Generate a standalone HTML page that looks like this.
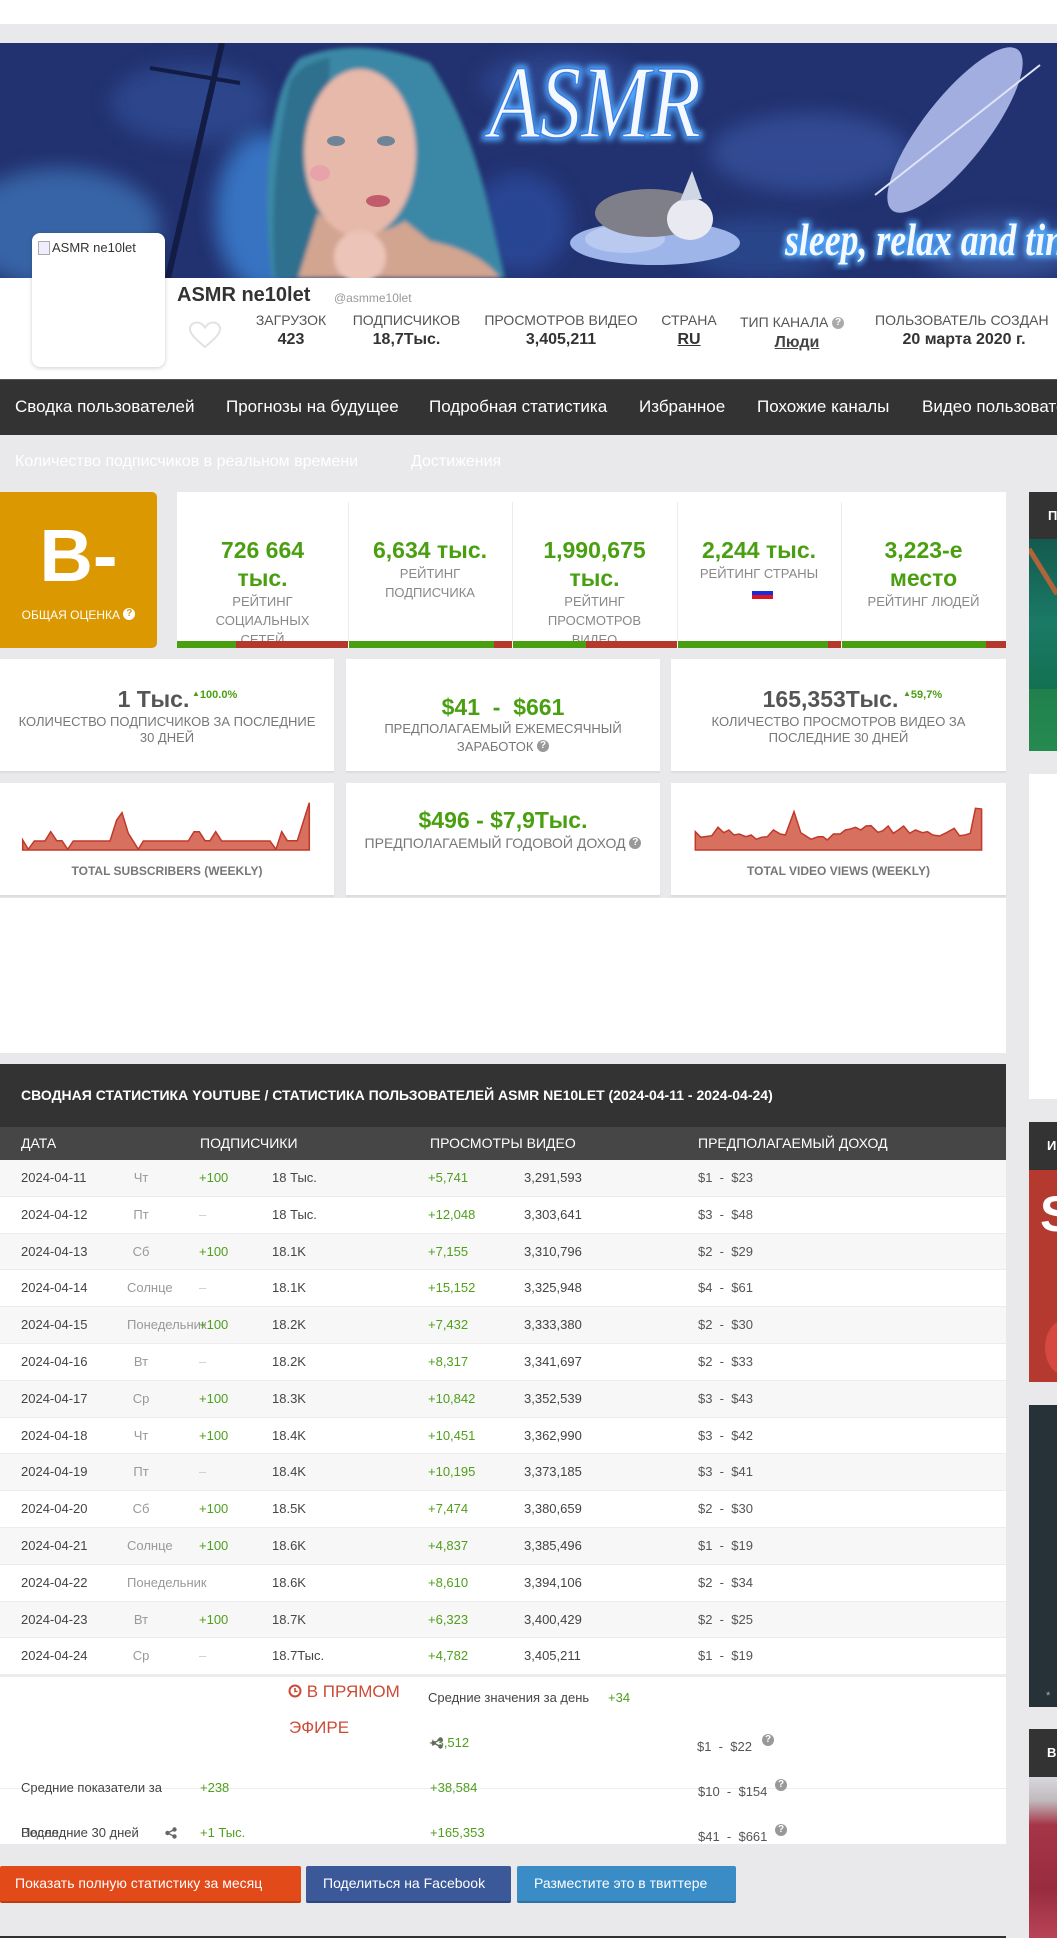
<!DOCTYPE html>
<html><head><meta charset="utf-8">
<style>
*{box-sizing:border-box}
body{margin:0;background:#e9e9eb;font-family:"Liberation Sans","Noto Sans CJK SC",sans-serif;}
#p{position:relative;width:1057px;height:1938px;overflow:hidden;background:#e9e9eb}
.a{position:absolute;white-space:nowrap}
.q{display:inline-block;width:12px;height:12px;border-radius:50%;background:#999;color:#fff;font-size:10px;font-weight:bold;line-height:12px;text-align:center;vertical-align:top}
.nav{top:379px;line-height:56px;color:#fff;font-size:17px}
.pl{top:310px;font-size:14px;color:#555;line-height:20px;text-align:center}
.pv{top:330px;font-size:16px;font-weight:bold;color:#333;line-height:20px;text-align:center}
.rc{top:492px;height:156px;overflow:hidden;text-align:center}
.rv{margin-top:44px;font-size:23px;line-height:28px;font-weight:bold;color:#4a9f11}
.rl{font-size:13px;line-height:19px;color:#888}
.card{background:#fff;box-shadow:0 2px 1px #dcdcdc}
.g{color:#4e9f1c}
.row{left:0;width:1006px;height:36.8px;line-height:36.8px;font-size:13px;color:#444;border-bottom:1px solid #ececec}
.row span{position:absolute;top:0}
.d1{left:21px}
.d2{left:127px;width:28px;text-align:center;color:#999;overflow:visible}
.d3{left:199px;color:#4e9f1c}
.d4{left:272px}
.d5{left:428px;color:#4e9f1c}
.d6{left:524px}
.d7{left:698px;color:#555}
.dash{color:#ccc}
.btn{top:1866px;height:37px;line-height:35px;color:#fff;font-size:14px;border-radius:2px}
.tri{font-size:8px;vertical-align:2px}
</style></head><body><div id="p">

<!-- top -->
<div class="a" style="left:0;top:0;width:1057px;height:24px;background:#fff"></div>

<!-- banner -->
<svg class="a" style="left:0;top:43px" width="1057" height="235" viewBox="0 0 1057 235">
<defs>
<filter id="bl"><feGaussianBlur stdDeviation="10"/></filter>
<filter id="gl"><feGaussianBlur stdDeviation="3"/></filter>
<filter id="sb"><feGaussianBlur stdDeviation="2"/></filter>
</defs>
<rect width="1057" height="235" fill="#22316f"/>
<g filter="url(#bl)" opacity="0.85">
<ellipse cx="60" cy="185" rx="100" ry="60" fill="#3b6db0"/>
<ellipse cx="190" cy="60" rx="80" ry="40" fill="#2d4a90"/>
<ellipse cx="265" cy="170" rx="50" ry="80" fill="#3a7fd0"/>
<ellipse cx="560" cy="40" rx="80" ry="30" fill="#2e4690"/>
<ellipse cx="810" cy="110" rx="100" ry="40" fill="#34509a"/>
<ellipse cx="760" cy="205" rx="80" ry="30" fill="#2c4a8e"/>
<ellipse cx="1000" cy="205" rx="80" ry="30" fill="#3a5aa2"/>
<ellipse cx="520" cy="180" rx="50" ry="50" fill="#2a4a9a"/>
</g>
<line x1="222" y1="0" x2="168" y2="235" stroke="#131c44" stroke-width="6"/>
<line x1="150" y1="25" x2="240" y2="40" stroke="#131c44" stroke-width="4"/>
<g filter="url(#sb)">
<path d="M300 15 Q360 -8 430 20 Q470 80 490 170 L505 235 L272 235 Q262 150 272 90 Q280 35 300 15Z" fill="#3a88a6"/>
<path d="M290 40 Q300 20 330 15 L320 235 L275 235 Q268 140 290 40Z" fill="#2f6f8e"/>
<path d="M318 170 Q360 205 405 178 L430 198 Q480 208 500 235 L298 235 Z" fill="#d2a590"/>
<ellipse cx="360" cy="110" rx="56" ry="84" fill="#e6b9aa"/>
<ellipse cx="360" cy="214" rx="26" ry="26" fill="#ecc5b8"/>
</g>
<ellipse cx="336" cy="98" rx="9" ry="5" fill="#6f8496"/>
<ellipse cx="386" cy="98" rx="9" ry="5" fill="#6f8496"/>
<ellipse cx="378" cy="158" rx="12" ry="6" fill="#c25c6c"/>
<ellipse cx="320" cy="130" rx="10" ry="8" fill="#e79aa8" opacity="0.7"/>
<g filter="url(#gl)"><text x="489" y="94" font-family="Liberation Serif" font-style="italic" font-size="104" textLength="212" lengthAdjust="spacingAndGlyphs" fill="none" stroke="#4fa8ff" stroke-width="7">ASMR</text></g>
<text x="489" y="94" font-family="Liberation Serif" font-style="italic" font-size="104" textLength="212" lengthAdjust="spacingAndGlyphs" fill="#f4f8ff" stroke="#3d7de0" stroke-width="1.5">ASMR</text>
<ellipse cx="655" cy="200" rx="85" ry="22" fill="#9db5e8"/>
<ellipse cx="625" cy="196" rx="40" ry="14" fill="#b9c9f0"/>
<ellipse cx="650" cy="170" rx="55" ry="24" fill="#7f7f8a"/>
<ellipse cx="690" cy="176" rx="23" ry="21" fill="#e9e9f2"/>
<path d="M680 158 L692 128 L702 156 Z" fill="#cfd6e4"/>
<ellipse cx="955" cy="87" rx="102" ry="32" transform="rotate(-52 955 87)" fill="#a3aee0"/>
<line x1="875" y1="152" x2="1040" y2="22" stroke="#dfe4f7" stroke-width="2"/>
<g filter="url(#gl)"><text x="785" y="212" font-family="Liberation Serif" font-style="italic" font-weight="bold" font-size="46" textLength="280" lengthAdjust="spacingAndGlyphs" fill="none" stroke="#4fa8ff" stroke-width="5">sleep, relax and tin</text></g>
<text x="785" y="212" font-family="Liberation Serif" font-style="italic" font-weight="bold" font-size="46" textLength="280" lengthAdjust="spacingAndGlyphs" fill="#f4f8ff">sleep, relax and tin</text>
</svg>

<!-- profile -->
<div class="a" style="left:0;top:278px;width:1057px;height:101px;background:#fff"></div>
<div class="a" style="left:32px;top:233px;width:133px;height:134px;background:#fff;border-radius:8px;box-shadow:0 1px 4px rgba(0,0,0,.2)"></div>
<div class="a" style="left:38px;top:241px;width:12px;height:14px;border:1px solid #aaa;background:#eef"></div>
<div class="a" style="left:52px;top:240px;font-size:13px;color:#333;line-height:16px">ASMR ne10let</div>
<div class="a" style="left:177px;top:283px;font-size:20px;font-weight:bold;color:#333;line-height:24px">ASMR ne10let</div>
<div class="a" style="left:334px;top:290px;font-size:12px;color:#999;line-height:16px">@asmme10let</div>
<svg class="a" style="left:188px;top:321px" width="34" height="28" viewBox="0 0 34 28"><path d="M17 26 C5 16 2 12 2 8 C2 4 5 1.5 9 1.5 C12 1.5 15 3.5 17 6.5 C19 3.5 22 1.5 25 1.5 C29 1.5 32 4 32 8 C32 12 29 16 17 26Z" fill="none" stroke="#e2e2e2" stroke-width="2"/></svg>
<div class="a pl" style="left:241px;width:100px">ЗАГРУЗОК</div>
<div class="a pv" style="left:241px;width:100px">423</div>
<div class="a pl" style="left:346px;width:121px">ПОДПИСЧИКОВ</div>
<div class="a pv" style="left:346px;width:121px">18,7Тыс.</div>
<div class="a pl" style="left:476px;width:170px">ПРОСМОТРОВ ВИДЕО</div>
<div class="a pv" style="left:476px;width:170px">3,405,211</div>
<div class="a pl" style="left:649px;width:80px">СТРАНА</div>
<div class="a pv" style="left:649px;width:80px;text-decoration:underline">RU</div>
<div class="a pl" style="left:740px;top:312px;text-align:left">ТИП КАНАЛА <span class="q" style="background:#aaa;vertical-align:2px">?</span></div>
<div class="a pv" style="left:757px;top:333px;width:80px;text-decoration:underline;color:#444">Люди</div>
<div class="a pl" style="left:875px;text-align:left">ПОЛЬЗОВАТЕЛЬ СОЗДАН</div>
<div class="a pv" style="left:884px;width:160px">20 марта 2020 г.</div>

<!-- nav -->
<div class="a" style="left:0;top:379px;width:1057px;height:56px;background:#333;border-top:1px solid #555"></div>
<div class="a nav" style="left:15px">Сводка пользователей</div>
<div class="a nav" style="left:226px">Прогнозы на будущее</div>
<div class="a nav" style="left:429px">Подробная статистика</div>
<div class="a nav" style="left:639px">Избранное</div>
<div class="a nav" style="left:757px">Похожие каналы</div>
<div class="a nav" style="left:922px">Видео пользователей</div>
<div class="a" style="left:15px;top:451px;font-size:16px;color:#fff;line-height:22px">Количество подписчиков в реальном времени</div>
<div class="a" style="left:411px;top:451px;font-size:16px;color:#fff;line-height:22px">Достижения</div>

<!-- grade -->
<div class="a" style="left:0;top:492px;width:157px;height:156px;background:#dc9800;border-radius:0 5px 5px 0"></div>
<div class="a" style="left:0;top:516px;width:157px;height:80px;line-height:80px;text-align:center;font-size:74px;font-weight:bold;color:#fff">B-</div>
<div class="a" style="left:0;top:606px;width:157px;line-height:18px;text-align:center;font-size:12px;color:#fff">ОБЩАЯ ОЦЕНКА <span class="q" style="background:#fff;color:#dc9800;vertical-align:3px">?</span></div>

<!-- rating card -->
<div class="a" style="left:177px;top:492px;width:829px;height:156px;background:#fff"></div>
<div class="a" style="left:348px;top:502px;width:1px;height:140px;background:#ececec"></div>
<div class="a" style="left:512px;top:502px;width:1px;height:140px;background:#ececec"></div>
<div class="a" style="left:677px;top:502px;width:1px;height:140px;background:#ececec"></div>
<div class="a" style="left:841px;top:502px;width:1px;height:140px;background:#ececec"></div>
<div class="a rc" style="left:177px;width:171px"><div class="rv">726 664<br>тыс.</div><div class="rl">РЕЙТИНГ<br>СОЦИАЛЬНЫХ<br>СЕТЕЙ</div></div>
<div class="a rc" style="left:348px;width:164px"><div class="rv">6,634 тыс.</div><div class="rl">РЕЙТИНГ<br>ПОДПИСЧИКА</div></div>
<div class="a rc" style="left:512px;width:165px"><div class="rv">1,990,675<br>тыс.</div><div class="rl">РЕЙТИНГ<br>ПРОСМОТРОВ<br>ВИДЕО</div></div>
<div class="a rc" style="left:677px;width:164px"><div class="rv">2,244 тыс.</div><div class="rl">РЕЙТИНГ СТРАНЫ</div></div>
<div class="a rc" style="left:841px;width:165px"><div class="rv">3,223-е<br>место</div><div class="rl">РЕЙТИНГ ЛЮДЕЙ</div></div>
<div class="a" style="left:752px;top:590px;width:21px;height:3px;background:#fff"></div>
<div class="a" style="left:752px;top:591px;width:21px;height:4px;background:#1c2bd8"></div>
<div class="a" style="left:752px;top:595px;width:21px;height:4px;background:#e0141e"></div>
<!-- bars -->
<div class="a" style="left:177px;top:641px;width:59px;height:7px;background:#4a9f11"></div>
<div class="a" style="left:236px;top:641px;width:112px;height:7px;background:#b5382c"></div>
<div class="a" style="left:349px;top:641px;width:145px;height:7px;background:#4a9f11"></div>
<div class="a" style="left:494px;top:641px;width:18px;height:7px;background:#b5382c"></div>
<div class="a" style="left:513px;top:641px;width:73px;height:7px;background:#4a9f11"></div>
<div class="a" style="left:586px;top:641px;width:91px;height:7px;background:#b5382c"></div>
<div class="a" style="left:678px;top:641px;width:150px;height:7px;background:#4a9f11"></div>
<div class="a" style="left:828px;top:641px;width:13px;height:7px;background:#b5382c"></div>
<div class="a" style="left:842px;top:641px;width:144px;height:7px;background:#4a9f11"></div>
<div class="a" style="left:986px;top:641px;width:20px;height:7px;background:#b5382c"></div>

<!-- row 2 cards -->
<div class="a card" style="left:0;top:659px;width:334px;height:112px"></div>
<div class="a card" style="left:346px;top:659px;width:314px;height:112px"></div>
<div class="a card" style="left:671px;top:659px;width:335px;height:112px"></div>
<div class="a" style="left:0;top:685px;width:307px;text-align:center;font-size:23px;font-weight:bold;color:#555;line-height:28px">1 Тыс.</div>
<div class="a" style="left:192px;top:687px;font-size:11px;font-weight:bold;color:#4a9f11;line-height:14px"><span class="tri">▲</span>100.0%</div>
<div class="a" style="left:0;top:714px;width:334px;text-align:center;font-size:13px;color:#777;line-height:15.5px">КОЛИЧЕСТВО ПОДПИСЧИКОВ ЗА ПОСЛЕДНИЕ<br>30 ДНЕЙ</div>
<div class="a" style="left:346px;top:693px;width:314px;text-align:center;font-size:23px;font-weight:bold;color:#4a9f11;line-height:28px">$41&nbsp; - &nbsp;$661</div>
<div class="a" style="left:346px;top:720px;width:314px;text-align:center;font-size:13px;color:#777;line-height:18px">ПРЕДПОЛАГАЕМЫЙ ЕЖЕМЕСЯЧНЫЙ<br>ЗАРАБОТОК <span class="q" style="vertical-align:3px">?</span></div>
<div class="a" style="left:671px;top:685px;width:319px;text-align:center;font-size:23px;font-weight:bold;color:#555;line-height:28px">165,353Тыс.</div>
<div class="a" style="left:903px;top:687px;font-size:11px;font-weight:bold;color:#4a9f11;line-height:14px"><span class="tri">▲</span>59,7%</div>
<div class="a" style="left:671px;top:714px;width:335px;text-align:center;font-size:13px;color:#777;line-height:15.5px">КОЛИЧЕСТВО ПРОСМОТРОВ ВИДЕО ЗА<br>ПОСЛЕДНИЕ 30 ДНЕЙ</div>

<!-- row 3 cards -->
<div class="a card" style="left:0;top:783px;width:334px;height:112px"></div>
<div class="a card" style="left:346px;top:783px;width:314px;height:112px"></div>
<div class="a card" style="left:671px;top:783px;width:335px;height:112px"></div>
<div class="a" style="left:0;top:863px;width:334px;text-align:center;font-size:12px;font-weight:bold;color:#777;line-height:16px">TOTAL SUBSCRIBERS (WEEKLY)</div>
<div class="a" style="left:346px;top:806px;width:314px;text-align:center;font-size:23px;font-weight:bold;color:#4a9f11;line-height:28px">$496 - $7,9Тыс.</div>
<div class="a" style="left:346px;top:834px;width:314px;text-align:center;font-size:14px;color:#777;line-height:18px">ПРЕДПОЛАГАЕМЫЙ ГОДОВОЙ ДОХОД <span class="q" style="vertical-align:3px">?</span></div>
<div class="a" style="left:671px;top:863px;width:335px;text-align:center;font-size:12px;font-weight:bold;color:#777;line-height:16px">TOTAL VIDEO VIEWS (WEEKLY)</div>

<svg class="a" style="left:0;top:0" width="1057" height="900" viewBox="0 0 1057 900">
<path d="M22.7 840 L28.3 849.3 L34.3 841 L45 841 L50.7 831.7 L56.7 840.7 L62 840.7 L67.7 849.3 L73.3 841 L110 841 L116.7 820 L122 812.7 L128.3 833.3 L138.3 849.3 L143.3 841 L188.3 841 L194 831.7 L199.3 831.7 L205 840.7 L210 840.7 L215.7 831.7 L221.7 841 L270 841 L276 849.3 L281.7 831.7 L287.3 840.7 L297.3 840.7 L309.3 802.7 L309.3 850 L22.7 850 Z" fill="#d8705f" stroke="#c0392b" stroke-width="1.5"/>
<path d="M695.3 831.7 L700.8 837.3 L711.8 835.7 L718 827.3 L723.8 832.7 L728.9 830 L734 835 L739.2 834 L746 836.7 L751.2 835 L756.3 839.3 L761.4 837.3 L767.3 836.7 L773.4 830 L780.3 834 L785.4 835 L794 811.7 L800.8 832.7 L811.1 839.3 L818 836.7 L823.1 836.7 L827.2 840 L833.4 834 L840.2 834 L845.3 830 L850.5 829 L855.6 827.3 L860.8 830 L865.9 826 L871 825.7 L877.9 832.3 L883 830.7 L888.2 826 L893.3 833.3 L898.4 830 L903.6 826 L909.7 833.3 L915.5 830 L922.4 832.7 L927.5 831.7 L932.7 835 L939.5 836 L946.4 832.7 L954.2 828.3 L959.4 835.7 L965.2 835 L970.3 833.3 L975.5 808.3 L981.6 809 L981.6 850 L695.3 850 Z" fill="#d8705f" stroke="#c0392b" stroke-width="1.5"/>
</svg>

<!-- blank white -->
<div class="a" style="left:0;top:898px;width:1006px;height:155px;background:#fff"></div>

<!-- table -->
<div class="a" style="left:0;top:1064px;width:1006px;height:63px;background:#333"></div>
<div class="a" style="left:21px;top:1085px;font-size:14px;font-weight:bold;color:#fff;line-height:20px">СВОДНАЯ СТАТИСТИКА YOUTUBE / СТАТИСТИКА ПОЛЬЗОВАТЕЛЕЙ ASMR NE10LET (2024-04-11 - 2024-04-24)</div>
<div class="a" style="left:0;top:1127px;width:1006px;height:33px;background:#464646"></div>
<div class="a" style="left:21px;top:1127px;line-height:33px;font-size:14px;color:#fff">ДАТА</div>
<div class="a" style="left:200px;top:1127px;line-height:33px;font-size:14px;color:#fff">ПОДПИСЧИКИ</div>
<div class="a" style="left:430px;top:1127px;line-height:33px;font-size:14px;color:#fff">ПРОСМОТРЫ ВИДЕО</div>
<div class="a" style="left:698px;top:1127px;line-height:33px;font-size:14px;color:#fff">ПРЕДПОЛАГАЕМЫЙ ДОХОД</div>

<div class="a row" style="top:1160px;background:#f7f7f7"><span class="d1">2024-04-11</span><span class="d2">Чт</span><span class="d3">+100</span><span class="d4">18 Тыс.</span><span class="d5">+5,741</span><span class="d6">3,291,593</span><span class="d7">$1&nbsp; - &nbsp;$23</span></div>
<div class="a row" style="top:1196.8px;background:#fff"><span class="d1">2024-04-12</span><span class="d2">Пт</span><span class="d3 dash">–</span><span class="d4">18 Тыс.</span><span class="d5">+12,048</span><span class="d6">3,303,641</span><span class="d7">$3&nbsp; - &nbsp;$48</span></div>
<div class="a row" style="top:1233.6px;background:#f7f7f7"><span class="d1">2024-04-13</span><span class="d2">Сб</span><span class="d3">+100</span><span class="d4">18.1K</span><span class="d5">+7,155</span><span class="d6">3,310,796</span><span class="d7">$2&nbsp; - &nbsp;$29</span></div>
<div class="a row" style="top:1270.4px;background:#fff"><span class="d1">2024-04-14</span><span class="d2">Солнце</span><span class="d3 dash">–</span><span class="d4">18.1K</span><span class="d5">+15,152</span><span class="d6">3,325,948</span><span class="d7">$4&nbsp; - &nbsp;$61</span></div>
<div class="a row" style="top:1307.2px;background:#f7f7f7"><span class="d1">2024-04-15</span><span class="d2">Понедельник</span><span class="d3">+100</span><span class="d4">18.2K</span><span class="d5">+7,432</span><span class="d6">3,333,380</span><span class="d7">$2&nbsp; - &nbsp;$30</span></div>
<div class="a row" style="top:1344px;background:#fff"><span class="d1">2024-04-16</span><span class="d2">Вт</span><span class="d3 dash">–</span><span class="d4">18.2K</span><span class="d5">+8,317</span><span class="d6">3,341,697</span><span class="d7">$2&nbsp; - &nbsp;$33</span></div>
<div class="a row" style="top:1380.8px;background:#f7f7f7"><span class="d1">2024-04-17</span><span class="d2">Ср</span><span class="d3">+100</span><span class="d4">18.3K</span><span class="d5">+10,842</span><span class="d6">3,352,539</span><span class="d7">$3&nbsp; - &nbsp;$43</span></div>
<div class="a row" style="top:1417.6px;background:#fff"><span class="d1">2024-04-18</span><span class="d2">Чт</span><span class="d3">+100</span><span class="d4">18.4K</span><span class="d5">+10,451</span><span class="d6">3,362,990</span><span class="d7">$3&nbsp; - &nbsp;$42</span></div>
<div class="a row" style="top:1454.4px;background:#f7f7f7"><span class="d1">2024-04-19</span><span class="d2">Пт</span><span class="d3 dash">–</span><span class="d4">18.4K</span><span class="d5">+10,195</span><span class="d6">3,373,185</span><span class="d7">$3&nbsp; - &nbsp;$41</span></div>
<div class="a row" style="top:1491.2px;background:#fff"><span class="d1">2024-04-20</span><span class="d2">Сб</span><span class="d3">+100</span><span class="d4">18.5K</span><span class="d5">+7,474</span><span class="d6">3,380,659</span><span class="d7">$2&nbsp; - &nbsp;$30</span></div>
<div class="a row" style="top:1528px;background:#f7f7f7"><span class="d1">2024-04-21</span><span class="d2">Солнце</span><span class="d3">+100</span><span class="d4">18.6K</span><span class="d5">+4,837</span><span class="d6">3,385,496</span><span class="d7">$1&nbsp; - &nbsp;$19</span></div>
<div class="a row" style="top:1564.8px;background:#fff"><span class="d1">2024-04-22</span><span class="d2">Понедельник</span><span class="d4">18.6K</span><span class="d5">+8,610</span><span class="d6">3,394,106</span><span class="d7">$2&nbsp; - &nbsp;$34</span></div>
<div class="a row" style="top:1601.6px;background:#f7f7f7"><span class="d1">2024-04-23</span><span class="d2">Вт</span><span class="d3">+100</span><span class="d4">18.7K</span><span class="d5">+6,323</span><span class="d6">3,400,429</span><span class="d7">$2&nbsp; - &nbsp;$25</span></div>
<div class="a row" style="top:1638.4px;background:#fff"><span class="d1">2024-04-24</span><span class="d2">Ср</span><span class="d3 dash">–</span><span class="d4">18.7Тыс.</span><span class="d5">+4,782</span><span class="d6">3,405,211</span><span class="d7">$1&nbsp; - &nbsp;$19</span></div>

<!-- summary -->
<div class="a" style="left:0;top:1675px;width:1006px;height:169px;background:#fff;border-top:2px solid #ececec"></div>
<div class="a" style="left:0;top:1788px;width:1006px;height:1px;background:#eeeeee"></div>
<div class="a" style="left:288px;top:1681px;font-size:17px;color:#cc4b37;line-height:22px"><svg width="14" height="14" viewBox="0 0 14 14" style="vertical-align:-1px"><circle cx="7" cy="7" r="5.5" fill="none" stroke="#cc4b37" stroke-width="2"/><path d="M7 4 V7.5 H9.5" fill="none" stroke="#cc4b37" stroke-width="1.6"/></svg> В ПРЯМОМ</div>
<div class="a" style="left:289px;top:1717px;font-size:17px;color:#cc4b37;line-height:22px">ЭФИРЕ</div>
<div class="a" style="left:428px;top:1690px;font-size:13px;color:#444;line-height:16px">Средние значения за день</div>
<div class="a g" style="left:608px;top:1690px;font-size:13px;line-height:16px">+34</div>
<div class="a g" style="left:429px;top:1735px;font-size:13px;line-height:16px">+3,512</div>
<svg class="a" style="left:431px;top:1737px" width="12" height="12" viewBox="0 0 12 12"><circle cx="9.5" cy="2.5" r="2.2" fill="#666"/><circle cx="2.5" cy="6" r="2.2" fill="#666"/><circle cx="9.5" cy="9.5" r="2.2" fill="#666"/><path d="M9.5 2.5 L2.5 6 L9.5 9.5" stroke="#666" stroke-width="1.3" fill="none"/></svg>
<div class="a" style="left:697px;top:1739px;font-size:13px;color:#555;line-height:16px">$1&nbsp; - &nbsp;$22</div>
<div class="a" style="left:762px;top:1734px"><span class="q">?</span></div>
<div class="a" style="left:21px;top:1780px;font-size:13px;color:#444;line-height:16px">Средние показатели за</div>
<div class="a g" style="left:200px;top:1780px;font-size:13px;line-height:16px">+238</div>
<div class="a g" style="left:430px;top:1780px;font-size:13px;line-height:16px">+38,584</div>
<div class="a" style="left:698px;top:1784px;font-size:13px;color:#555;line-height:16px">$10&nbsp; - &nbsp;$154</div>
<div class="a" style="left:775px;top:1779px"><span class="q">?</span></div>
<div class="a" style="left:21px;top:1825px;font-size:13px;color:#444;line-height:16px">Последние 30 дней</div>
<div class="a" style="left:21px;top:1825px;font-size:13px;color:#444;line-height:16px;opacity:.8">Ведел</div>
<svg class="a" style="left:165px;top:1827px" width="12" height="12" viewBox="0 0 12 12"><circle cx="9.5" cy="2.5" r="2.2" fill="#666"/><circle cx="2.5" cy="6" r="2.2" fill="#666"/><circle cx="9.5" cy="9.5" r="2.2" fill="#666"/><path d="M9.5 2.5 L2.5 6 L9.5 9.5" stroke="#666" stroke-width="1.3" fill="none"/></svg>
<div class="a g" style="left:200px;top:1825px;font-size:13px;line-height:16px">+1 Тыс.</div>
<div class="a g" style="left:430px;top:1825px;font-size:13px;line-height:16px">+165,353</div>
<div class="a" style="left:698px;top:1829px;font-size:13px;color:#555;line-height:16px">$41&nbsp; - &nbsp;$661</div>
<div class="a" style="left:775px;top:1824px"><span class="q">?</span></div>

<!-- buttons -->
<div class="a btn" style="left:0;width:301px;background:#e24a1a;border-bottom:2px solid #c23a10;padding-left:15px">Показать полную статистику за месяц</div>
<div class="a btn" style="left:306px;width:205px;background:#3b5898;border-bottom:2px solid #2d4680;padding-left:17px">Поделиться на Facebook</div>
<div class="a btn" style="left:517px;width:219px;background:#3a8cc7;border-bottom:2px solid #2d73a8;padding-left:17px">Разместите это в твиттере</div>
<div class="a" style="left:0;top:1936px;width:1006px;height:2px;background:#333"></div>

<!-- sidebar -->
<div class="a" style="left:1029px;top:492px;width:28px;height:47px;background:#333"></div>
<div class="a" style="left:1048px;top:492px;line-height:47px;font-size:13px;font-weight:bold;color:#fff">П</div>
<div class="a" style="left:1029px;top:539px;width:28px;height:212px;background:linear-gradient(180deg,#145a4e 0%,#1a7a66 40%,#137052 70%,#1f8a5a 100%)"></div>
<svg class="a" style="left:1029px;top:539px" width="28" height="212"><line x1="0" y1="10" x2="28" y2="55" stroke="#b0643a" stroke-width="5"/><rect x="0" y="150" width="28" height="62" fill="#2a8a4a" opacity="0.6"/></svg>
<div class="a" style="left:1029px;top:774px;width:28px;height:325px;background:#fff"></div>
<div class="a" style="left:1029px;top:1122px;width:28px;height:48px;background:#333"></div>
<div class="a" style="left:1047px;top:1122px;line-height:48px;font-size:13px;font-weight:bold;color:#fff">И</div>
<div class="a" style="left:1029px;top:1170px;width:28px;height:212px;background:#b43a2f"></div>
<div class="a" style="left:1040px;top:1186px;font-size:50px;font-weight:bold;color:#fff;line-height:56px">S</div>
<div class="a" style="left:1045px;top:1320px;width:40px;height:55px;border-radius:50%;background:#d64840"></div>
<div class="a" style="left:1029px;top:1405px;width:28px;height:302px;background:#263238"></div>
<div class="a" style="left:1046px;top:1690px;font-size:11px;color:#aaa">*</div>
<div class="a" style="left:1029px;top:1729px;width:28px;height:48px;background:#333"></div>
<div class="a" style="left:1047px;top:1729px;line-height:48px;font-size:13px;font-weight:bold;color:#fff">В</div>
<div class="a" style="left:1029px;top:1777px;width:28px;height:161px;background:linear-gradient(180deg,#d8d8dc 0%,#c0b8bc 15%,#a53447 30%,#9a2c40 70%,#b84458 100%)"></div>

</div></body></html>
